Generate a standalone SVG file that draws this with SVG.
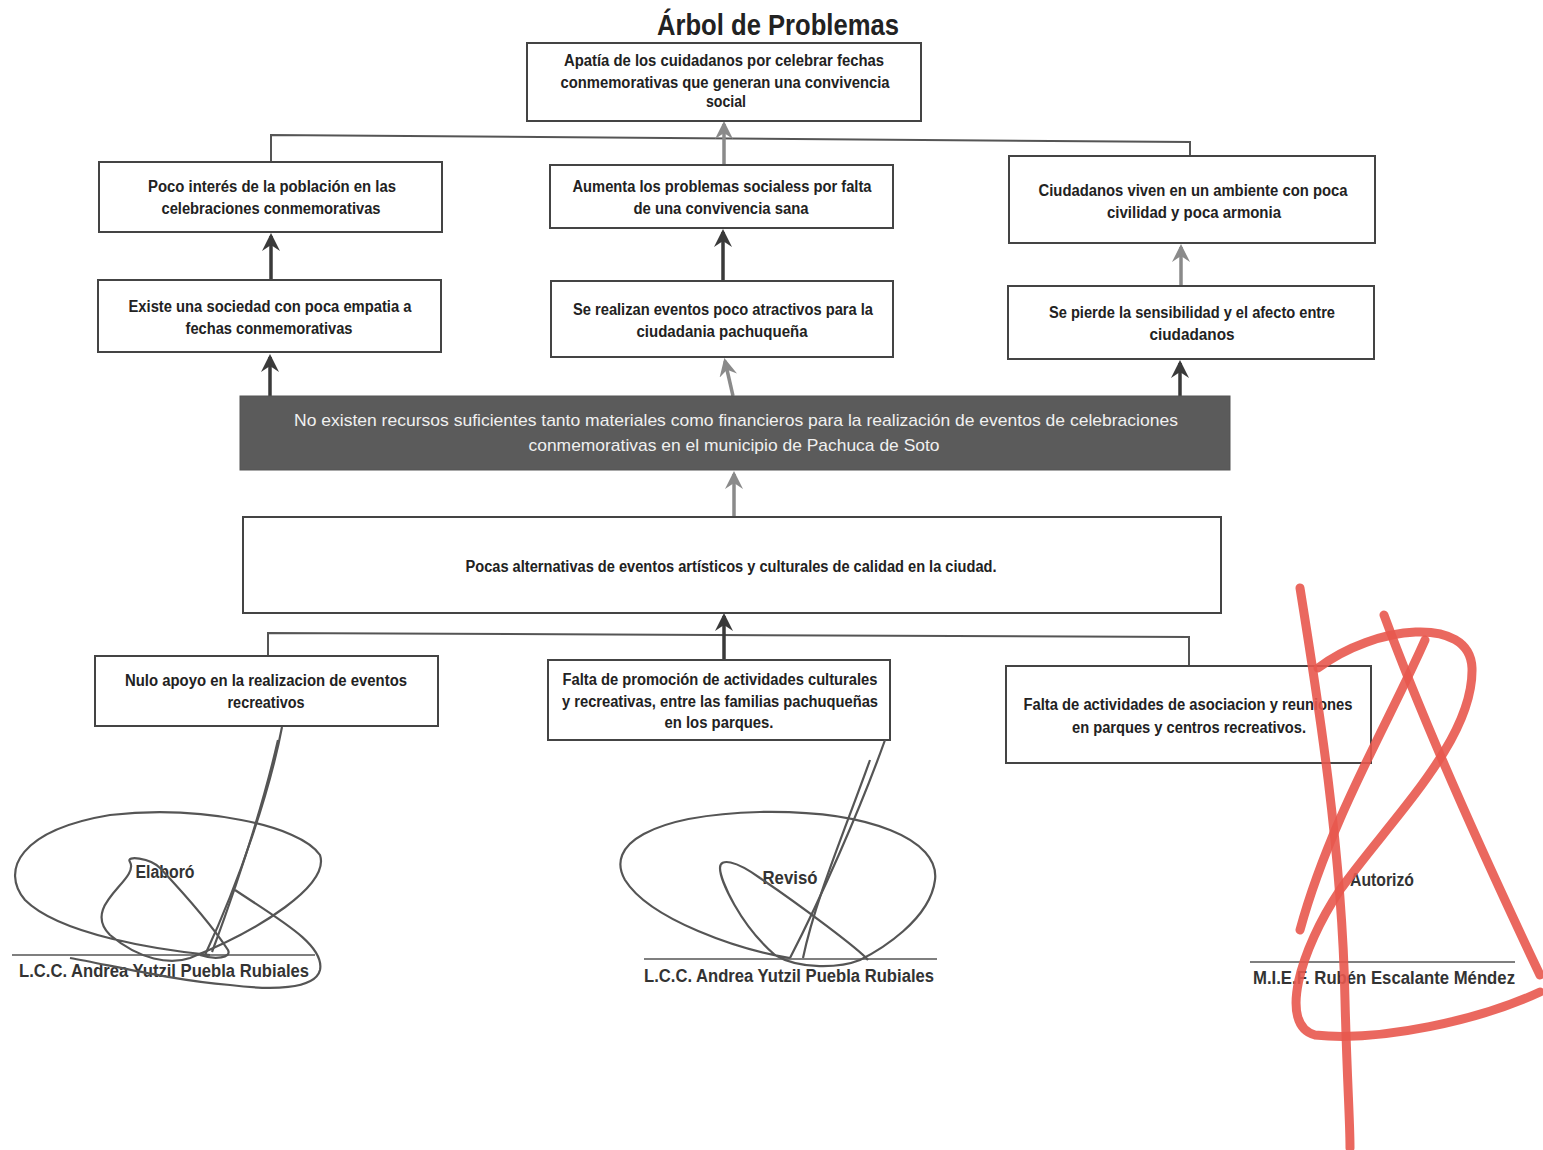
<svg xmlns="http://www.w3.org/2000/svg" width="1543" height="1150" viewBox="0 0 1543 1150">
<style>
  .box{fill:#fff;stroke:#444;stroke-width:2}
  .dark{fill:#5b5b5b;stroke:#555;stroke-width:1}
  .t{font-family:"Liberation Sans",Arial,sans-serif;font-size:16px;fill:#222;text-anchor:middle;font-weight:bold}
  .tw{font-family:"Liberation Sans",Arial,sans-serif;font-size:17px;fill:#f0f0f0;text-anchor:middle}
  .title{font-family:"Liberation Sans",Arial,sans-serif;font-size:30px;font-weight:bold;fill:#222;text-anchor:middle}
  .sig{font-family:"Liberation Sans",Arial,sans-serif;font-size:18px;font-weight:bold;fill:#333;text-anchor:middle}
  .line{fill:none;stroke:#555;stroke-width:2}
  .ad{fill:none;stroke:#3a3a3a;stroke-width:3.5}
  .ag{fill:none;stroke:#8a8a8a;stroke-width:3.5}
  .pen{fill:none;stroke:#555;stroke-width:2.2}
  .red{fill:none;stroke:#e8584e;stroke-width:9;stroke-linecap:round;opacity:0.9}
  .sl{stroke:#555;stroke-width:1.5}
</style>
<defs>
  <marker id="hd" viewBox="0 0 12 12" refX="10" refY="6" markerWidth="18" markerHeight="18" orient="auto" markerUnits="userSpaceOnUse">
    <path d="M0,0 L12,6 L0,12 L4,6 Z" fill="#3a3a3a"/>
  </marker>
  <marker id="hg" viewBox="0 0 12 12" refX="10" refY="6" markerWidth="18" markerHeight="18" orient="auto" markerUnits="userSpaceOnUse">
    <path d="M0,0 L12,6 L0,12 L4,6 Z" fill="#8a8a8a"/>
  </marker>
</defs>
<rect width="1543" height="1150" fill="#fff"/>

<text class="title" x="778" y="35" textLength="242" lengthAdjust="spacingAndGlyphs">Árbol de Problemas</text>

<g id="connectors">
  <polyline class="line" points="271,162 271,135 1190,142 1190,156"/>
  <line class="ag" x1="724" y1="165" x2="724" y2="124" marker-end="url(#hg)"/>
  <line class="ad" x1="271" y1="280" x2="271" y2="236" marker-end="url(#hd)"/>
  <line class="ad" x1="723" y1="281" x2="723" y2="232" marker-end="url(#hd)"/>
  <line class="ag" x1="1181" y1="286" x2="1181" y2="247" marker-end="url(#hg)"/>
  <line class="ad" x1="270" y1="396" x2="270" y2="357" marker-end="url(#hd)"/>
  <line class="ag" x1="733" y1="396" x2="725" y2="361" marker-end="url(#hg)"/>
  <line class="ad" x1="1180" y1="396" x2="1180" y2="363" marker-end="url(#hd)"/>
  <line class="ag" x1="734" y1="517" x2="734" y2="474" marker-end="url(#hg)"/>
  <polyline class="line" points="268,656 268,633 1189,637 1189,666"/>
  <line class="ad" x1="724" y1="661" x2="724" y2="616" marker-end="url(#hd)"/>
</g>

<g id="n-top">
  <rect class="box" x="527" y="43" width="394" height="78"/>
  <text class="t" x="724" y="66" textLength="320" lengthAdjust="spacingAndGlyphs">Apatía de los cuidadanos por celebrar fechas</text>
  <text class="t" x="725" y="88" textLength="329" lengthAdjust="spacingAndGlyphs">conmemorativas que generan una convivencia</text>
  <text class="t" x="726" y="107" textLength="40" lengthAdjust="spacingAndGlyphs">social</text>
</g>
<g id="n-l1">
  <rect class="box" x="99" y="162" width="343" height="70"/>
  <text class="t" x="272" y="192" textLength="248" lengthAdjust="spacingAndGlyphs">Poco interés de la población en las</text>
  <text class="t" x="271" y="214" textLength="219" lengthAdjust="spacingAndGlyphs">celebraciones conmemorativas</text>
</g>
<g id="n-m1">
  <rect class="box" x="550" y="165" width="343" height="63"/>
  <text class="t" x="722" y="192" textLength="299" lengthAdjust="spacingAndGlyphs">Aumenta los problemas socialess por falta</text>
  <text class="t" x="721" y="214" textLength="175" lengthAdjust="spacingAndGlyphs">de una convivencia sana</text>
</g>
<g id="n-r1">
  <rect class="box" x="1009" y="156" width="366" height="87"/>
  <text class="t" x="1193" y="196" textLength="309" lengthAdjust="spacingAndGlyphs">Ciudadanos viven en un ambiente con poca</text>
  <text class="t" x="1194" y="218" textLength="174" lengthAdjust="spacingAndGlyphs">civilidad y poca armonia</text>
</g>
<g id="n-l2">
  <rect class="box" x="98" y="280" width="343" height="72"/>
  <text class="t" x="270" y="312" textLength="283" lengthAdjust="spacingAndGlyphs">Existe una sociedad con poca empatia a</text>
  <text class="t" x="269" y="334" textLength="167" lengthAdjust="spacingAndGlyphs">fechas conmemorativas</text>
</g>
<g id="n-m2">
  <rect class="box" x="551" y="281" width="342" height="76"/>
  <text class="t" x="723" y="315" textLength="300" lengthAdjust="spacingAndGlyphs">Se realizan eventos poco atractivos para la</text>
  <text class="t" x="722" y="337" textLength="171" lengthAdjust="spacingAndGlyphs">ciudadania pachuqueña</text>
</g>
<g id="n-r2">
  <rect class="box" x="1008" y="286" width="366" height="73"/>
  <text class="t" x="1192" y="318" textLength="286" lengthAdjust="spacingAndGlyphs">Se pierde la sensibilidad y el afecto entre</text>
  <text class="t" x="1192" y="340" textLength="85" lengthAdjust="spacingAndGlyphs">ciudadanos</text>
</g>
<g id="n-central">
  <rect class="dark" x="240" y="396" width="990" height="74"/>
  <text class="tw" x="736" y="426" textLength="884" lengthAdjust="spacingAndGlyphs">No existen recursos suficientes tanto materiales como financieros para la realización de eventos de celebraciones</text>
  <text class="tw" x="734" y="451" textLength="411" lengthAdjust="spacingAndGlyphs">conmemorativas en el municipio de Pachuca de Soto</text>
</g>
<g id="n-pocas">
  <rect class="box" x="243" y="517" width="978" height="96"/>
  <text class="t" x="731" y="572" textLength="531" lengthAdjust="spacingAndGlyphs">Pocas alternativas de eventos artísticos y culturales de calidad en la ciudad.</text>
</g>
<g id="n-b1">
  <rect class="box" x="95" y="656" width="343" height="70"/>
  <text class="t" x="266" y="686" textLength="282" lengthAdjust="spacingAndGlyphs">Nulo apoyo en la realizacion de eventos</text>
  <text class="t" x="266" y="708" textLength="77" lengthAdjust="spacingAndGlyphs">recreativos</text>
</g>
<g id="n-b2">
  <rect class="box" x="548" y="660" width="342" height="80"/>
  <text class="t" x="720" y="685" textLength="315" lengthAdjust="spacingAndGlyphs">Falta de promoción de actividades culturales</text>
  <text class="t" x="720" y="707" textLength="316" lengthAdjust="spacingAndGlyphs">y recreativas, entre las familias pachuqueñas</text>
  <text class="t" x="719" y="728" textLength="109" lengthAdjust="spacingAndGlyphs">en los parques.</text>
</g>
<g id="n-b3">
  <rect class="box" x="1006" y="666" width="365" height="97"/>
  <text class="t" x="1188" y="710" textLength="329" lengthAdjust="spacingAndGlyphs">Falta de actividades de asociacion y reuniones</text>
  <text class="t" x="1189" y="733" textLength="234" lengthAdjust="spacingAndGlyphs">en parques y centros recreativos.</text>
</g>

<g id="signatures">
  <line class="sl" x1="12" y1="955" x2="315" y2="955"/>
  <line class="sl" x1="644" y1="959" x2="937" y2="959"/>
  <line class="sl" x1="1250" y1="962" x2="1515" y2="962"/>
  <text class="sig" x="165" y="878" font-size="17" textLength="59" lengthAdjust="spacingAndGlyphs">Elaboró</text>
  <text class="sig" x="790" y="884" font-size="17" textLength="55" lengthAdjust="spacingAndGlyphs">Revisó</text>
  <text class="sig" x="1382" y="886" font-size="17" textLength="64" lengthAdjust="spacingAndGlyphs">Autorizó</text>
  <text class="sig" x="164" y="977" textLength="290" lengthAdjust="spacingAndGlyphs">L.C.C. Andrea Yutzil Puebla Rubiales</text>
  <text class="sig" x="789" y="982" textLength="290" lengthAdjust="spacingAndGlyphs">L.C.C. Andrea Yutzil Puebla Rubiales</text>
  <text class="sig" x="1384" y="984" textLength="262" lengthAdjust="spacingAndGlyphs">M.I.E.F. Rubén Escalante Méndez</text>
  <path class="pen" d="M282,727 C270,790 240,880 205,955"/>
  <path class="pen" d="M278,740 C262,810 235,890 212,952"/>
  <path class="pen" d="M210,955 C160,950 60,935 25,900 C0,870 20,830 110,815 C200,805 300,825 320,855 C330,885 260,930 190,958 C170,965 140,960 110,935 C80,905 140,880 130,862 C125,855 150,858 160,868 C190,900 215,930 228,950 C232,958 215,960 200,955"/>
  <path class="pen" d="M235,890 C280,920 325,945 320,970 C315,990 270,990 230,985 C170,980 110,965 70,958"/>
  <path class="pen" d="M885,740 C860,810 820,900 790,958"/>
  <path class="pen" d="M870,760 C845,830 815,900 803,958"/>
  <path class="pen" d="M790,958 C740,950 650,920 625,880 C605,845 650,815 760,812 C870,810 940,840 935,880 C930,920 880,950 860,960 C840,968 800,970 775,955 C740,925 720,880 720,868 C720,858 735,860 760,878 C800,905 860,950 868,960"/>
  <path class="red" d="M1300,588 C1318,700 1342,850 1345,1000 C1347,1080 1350,1120 1350,1148"/>
  <path class="red" d="M1384,615 C1430,740 1495,880 1540,975"/>
  <path class="red" d="M1318,668 C1375,625 1470,615 1472,668 C1474,740 1390,820 1340,890 C1300,950 1278,1025 1315,1035 C1380,1042 1480,1020 1540,992"/>
  <path class="red" d="M1425,640 C1390,720 1330,820 1300,930"/>
</g>
</svg>
